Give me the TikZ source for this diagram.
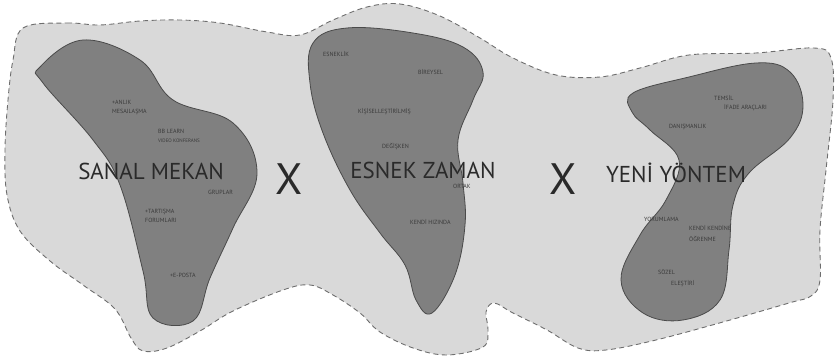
\documentclass[tikz,border=0pt]{standalone}
\usepackage{fontspec}
\setmainfont{PT Sans}
\usepackage{tikz}
\usetikzlibrary{positioning}
\definecolor{mapfill}{HTML}{D9D9D9}
\definecolor{mapedge}{HTML}{6E6E6E}
\definecolor{zonefill}{HTML}{808080}
\definecolor{zoneedge}{HTML}{4A4A4A}
\definecolor{titlegray}{HTML}{2A2A2A}
\definecolor{taggray}{HTML}{3A3A3A}

\begin{document}
\begin{tikzpicture}[
  x=1pt, y=-1pt,
  region/.style={
    draw=mapedge, fill=mapfill,
    line width=0.9pt, dash pattern=on 5pt off 3.5pt
  },
  zone/.style={
    draw=zoneedge, fill=zonefill, line width=0.8pt
  },
  title/.style={
    font=\fontsize{23}{23}\selectfont, text=titlegray,
    inner sep=0pt, anchor=base
  },
  cross/.style={
    font=\fontsize{44}{44}\selectfont, text=titlegray,
    inner sep=0pt, anchor=base
  },
  tag/.style={
    font=\fontsize{6}{9}\selectfont, text=taggray,
    inner sep=0pt, anchor=base west, align=left
  }
]
\useasboundingbox (0,0) rectangle (836,358);

% Outer dashed region
\draw[region] plot[smooth cycle, tension=0.6] coordinates {
  (23,28) (67,23) (100,25) (140,21) (180,20) (220,23) (267,32) (300,35)
  (333,20) (367,7) (400,4) (440,16) (480,38) (513,58) (556,75) (600,77)
  (640,68) (689,55) (756,53) (814,48) (831,58) (833,100) (826,170)
  (820,230) (820,280) (811,296) (789,303) (723,322) (656,340) (606,350)
  (578,348) (547,330) (513,313) (494,303) (486,312) (488,330) (483,347)
  (447,355) (413,348) (380,332) (360,313) (333,295) (310,285) (283,290)
  (233,311) (200,331) (167,348) (143,351) (131,338) (115,309) (83,285)
  (50,261) (20,231) (7,195) (5,150) (8,100) (13,60)};

% Inner zones
\draw[zone] plot[smooth cycle, tension=0.65] coordinates {
  (40,67) (83,40) (140,60) (173,100) (233,123) (257,173) (233,228)
  (210,278) (193,321) (153,318) (143,271) (120,185) (93,140) (43,83)};
\draw[zone] plot[smooth cycle, tension=0.65] coordinates {
  (313,43) (347,28) (413,33) (463,47) (483,72) (473,100) (458,140)
  (463,183) (465,225) (455,275) (432,313) (416,300) (405,265)
  (380,233) (350,190) (323,133) (310,83)};
\draw[zone] plot[smooth cycle, tension=0.65] coordinates {
  (633,93) (689,77) (756,63) (790,72) (803,105) (790,138) (749,173)
  (733,205) (729,250) (720,300) (683,320) (643,313) (621,280)
  (640,235) (666,200) (679,160) (650,130) (632,112)};

% Main titles
\node[title] (sanal) at (151,180) {SANAL MEKAN};
\node[title] (esnek) at (423,179) {ESNEK ZAMAN};
\node[title] (yeni)  at (676,183) {YENİ YÖNTEM};
\node[cross] (crossA) at (289,195) {X};
\node[cross] (crossB) at (563,195) {X};

% Sanal mekan tags
\node[tag] (anlik) at (112,114) {+ANLIK\\MESAJLAŞMA};
\node[tag] (bblearn) at (158,143) {BB LEARN\\{\fontsize{5}{9}\selectfont VIDEO KONFERANS}};
\node[tag] (gruplar) at (208,195) {GRUPLAR};
\node[tag] (tartisma) at (145,223) {+TARTIŞMA\\FORUMLARI};
\node[tag] (eposta) at (170,278) {+E-POSTA};

% Esnek zaman tags
\node[tag] (esneklik) at (323,57) {ESNEKLİK};
\node[tag] (bireysel) at (418,75) {BİREYSEL};
\node[tag] (kisisel) at (358,114) {KİŞİSELLEŞTİRİLMİŞ};
\node[tag] (degisken) at (382,149) {DEĞİŞKEN};
\node[tag] (ortak) at (453,189) {ORTAK};
\node[tag] (kendihiz) at (410,225) {KENDİ HIZINDA};

% Yeni yontem tags
\node[tag] (temsil) at (714,101) {TEMSİL};
\node[tag] (ifade) at (724,110) {İFADE ARAÇLARI};
\node[tag] (danisman) at (669,129) {DANIŞMANLIK};
\node[tag] (yorum) at (644,222) {YORUMLAMA};
\node[tag, font=\fontsize{6}{11}\selectfont] (kendine) at (689,242) {KENDİ KENDİNE\\ÖĞRENME};
\node[tag] (sozel) at (658,275) {SÖZEL};
\node[tag] (elestiri) at (671,286) {ELEŞTİRİ};

\end{tikzpicture}
\end{document}
